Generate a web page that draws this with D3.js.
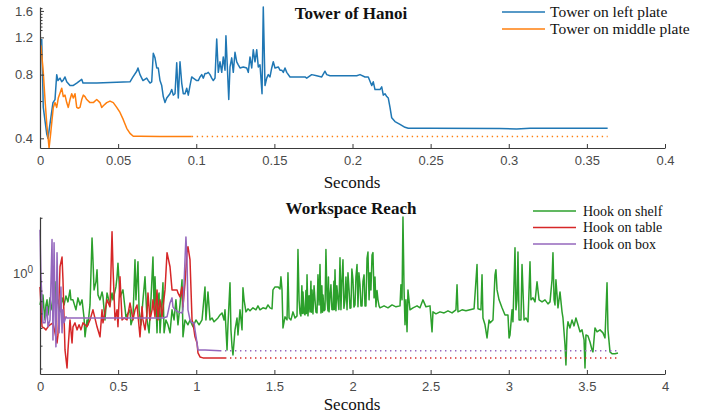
<!DOCTYPE html>
<html>
<head>
<meta charset="utf-8">
<script src="https://cdn.jsdelivr.net/npm/d3@7"></script>
<style>
  html, body { margin: 0; padding: 0; background: #fff; }
  svg { display: block; }
  .tick text { font-family: "Liberation Sans", Arial, sans-serif; font-size: 13px; fill: #4a4a4a; }
  .ttl { font-family: "Liberation Serif", "Times New Roman", serif; font-weight: bold; font-size: 17px; fill: #111; }
  .xl { font-family: "Liberation Serif", "Times New Roman", serif; font-size: 17px; fill: #111; }
  .lg { font-family: "Liberation Serif", "Times New Roman", serif; fill: #111; }
</style>
</head>
<body>
<svg id="chart" width="707" height="415"></svg>
<script>
// ---------------- DATA ----------------
// Tower of Hanoi  [seconds, value]
const towerLeft = [
  [0.0011,1.18],[0.0021,0.56],[0.0043,0.42],[0.0051,0.40],[0.0083,0.59],[0.0096,0.61],[0.0107,0.80],
  [0.0115,0.75],[0.0128,0.77],[0.0139,0.74],[0.0147,0.75],[0.016,0.78],[0.0171,0.74],[0.0192,0.71],
  [0.0211,0.71],[0.0235,0.73],[0.0267,0.76],[0.0275,0.73],[0.0307,0.73],[0.0363,0.73],[0.0576,0.74],
  [0.0595,0.78],[0.0619,0.83],[0.0627,0.86],[0.064,0.80],[0.0659,0.75],[0.0683,0.77],[0.0693,0.75],
  [0.0704,0.73],[0.0715,0.74],[0.0725,1.01],[0.0736,0.96],[0.0747,0.86],[0.0757,0.86],[0.0768,0.75],
  [0.0779,0.71],[0.0789,0.63],[0.080,0.59],[0.0811,0.62],[0.0832,0.65],[0.0843,0.68],[0.0853,0.64],
  [0.0864,0.65],[0.0875,0.91],[0.0885,0.62],[0.0896,0.92],[0.0907,0.73],[0.0917,0.65],[0.0928,0.65],
  [0.0939,0.69],[0.0949,0.64],[0.096,0.71],[0.0971,0.78],[0.0981,0.77],[0.1003,0.75],[0.1013,0.75],
  [0.1024,0.78],[0.1035,0.80],[0.1045,0.77],[0.1056,0.81],[0.1067,0.81],[0.1077,0.82],[0.1088,0.80],
  [0.1099,0.77],[0.1109,0.75],[0.112,0.77],[0.1131,1.18],[0.1141,0.82],[0.1152,0.92],[0.1163,0.82],
  [0.1173,0.97],[0.1184,0.84],[0.119,1.22],[0.1199,0.87],[0.1208,0.61],[0.1216,0.87],[0.1227,0.96],
  [0.1237,0.82],[0.1248,1.02],[0.1259,0.92],[0.1269,0.89],[0.128,0.86],[0.1301,0.87],[0.1323,0.86],
  [0.1333,0.82],[0.1344,0.97],[0.1355,0.86],[0.1365,1.05],[0.1376,0.92],[0.1387,1.05],[0.1397,0.87],
  [0.1408,0.89],[0.1421,0.65],[0.1429,1.67],[0.144,0.71],[0.1451,0.77],[0.1461,0.80],[0.1472,0.78],
  [0.1483,0.86],[0.1493,0.92],[0.1504,0.86],[0.1525,0.87],[0.1536,0.84],[0.1547,0.84],[0.1557,0.82],
  [0.1568,0.86],[0.1579,0.82],[0.16,0.78],[0.1621,0.78],[0.1664,0.78],[0.1696,0.78],[0.1707,0.77],
  [0.1739,0.80],[0.1771,0.79],[0.1803,0.78],[0.1824,0.83],[0.1835,0.80],[0.1856,0.79],[0.2027,0.79],
  [0.2048,0.80],[0.208,0.78],[0.2101,0.78],[0.2123,0.71],[0.2133,0.74],[0.2144,0.68],[0.2155,0.68],
  [0.2176,0.68],[0.2187,0.70],[0.2197,0.64],[0.2208,0.65],[0.2219,0.63],[0.2229,0.62],[0.224,0.56],
  [0.2251,0.50],[0.2272,0.48],[0.2304,0.466],[0.2336,0.451],[0.2357,0.446],[0.2496,0.446],
  [0.294,0.445],[0.305,0.443],[0.3136,0.446],[0.3633,0.446]
];
const towerMiddle = [
  [0.0006,1.10],[0.0021,0.82],[0.0032,0.61],[0.0043,0.47],[0.0058,0.36],[0.0068,0.42],[0.0085,0.56],
  [0.0096,0.59],[0.0107,0.56],[0.0117,0.62],[0.0139,0.69],[0.0149,0.63],[0.016,0.64],[0.0171,0.59],
  [0.0181,0.56],[0.0192,0.61],[0.0203,0.65],[0.0213,0.62],[0.0224,0.65],[0.0235,0.56],[0.0245,0.555],
  [0.0256,0.56],[0.0267,0.61],[0.0277,0.64],[0.0288,0.63],[0.0299,0.61],[0.032,0.59],[0.0341,0.59],
  [0.0363,0.61],[0.0384,0.59],[0.0395,0.56],[0.0405,0.57],[0.0427,0.59],[0.0448,0.60],[0.0469,0.59],
  [0.0491,0.56],[0.0512,0.53],[0.0533,0.49],[0.0555,0.446],[0.0576,0.422],[0.0597,0.409],
  [0.064,0.409],[0.0768,0.408],[0.0971,0.408]
];
const towerSeries = ["Tower on left plate", "Tower on middle plate"];
const towerXTicks = [0, 0.05, 0.1, 0.15, 0.2, 0.25, 0.3, 0.35, 0.4];
const towerYTicks = [0.4, 0.8, 1.2, 1.6];
const towerYMinor = [0.6, 1.0, 1.3, 1.35, 1.4, 1.45, 1.5, 1.55, 1.65];

// Workspace Reach  [seconds, value]
const hookShelf = [
  [0,0.668],[0.006,0.712],[0.013,0.589],[0.019,0.758],[0.026,0.628],[0.032,0.553],[0.038,0.668],
  [0.045,0.712],[0.051,0.589],[0.064,0.730],[0.077,0.628],[0.090,0.712],[0.096,0.893],[0.102,0.668],
  [0.115,0.712],[0.128,0.612],[0.141,0.730],[0.154,0.668],[0.166,0.748],[0.179,0.694],[0.192,0.807],
  [0.198,0.712],[0.211,0.712],[0.230,0.628],[0.243,0.730],[0.256,0.668],[0.269,0.712],[0.282,0.567],
  [0.288,0.447],[0.301,0.553],[0.307,0.520],[0.320,0.668],[0.333,1.55],[0.339,1.18],[0.346,0.807],
  [0.358,0.893],[0.365,1.04],[0.371,0.758],[0.384,0.712],[0.397,0.787],[0.403,0.739],[0.416,0.553],
  [0.429,0.777],[0.448,0.668],[0.461,0.777],[0.467,0.712],[0.486,0.838],[0.493,0.951],[0.499,1.13],
  [0.512,0.739],[0.531,0.807],[0.550,0.575],[0.576,0.628],[0.582,0.520],[0.595,0.567],[0.608,1.18],
  [0.614,0.712],[0.627,1.15],[0.634,0.628],[0.646,0.520],[0.659,0.712],[0.672,0.951],[0.685,0.553],
  [0.698,0.470],[0.710,0.712],[0.723,1.22],[0.730,0.628],[0.736,0.951],[0.749,0.470],[0.755,0.712],
  [0.762,0.777],[0.768,0.470],[0.781,0.712],[0.787,0.882],[0.794,0.470],[0.806,0.553],[0.819,0.520],
  [0.832,0.470],[0.845,0.628],[0.858,0.553],[0.870,0.712],[0.883,0.520],[0.896,0.668],[0.909,0.916],
  [0.915,0.447],[0.928,0.553],[0.947,0.520],[0.960,0.553],[0.979,0.507],[0.998,0.553],[1.018,0.520],
  [1.037,0.553],[1.056,0.838],[1.062,0.553],[1.075,0.787],[1.088,0.553],[1.101,0.567],[1.114,0.540],
  [1.126,0.553],[1.139,0.567],[1.152,0.589],[1.165,0.604],[1.178,0.553],[1.184,0.628],[1.197,0.379],
  [1.203,0.520],[1.216,0.882],[1.222,0.488],[1.229,0.394],[1.235,0.356],[1.248,0.488],[1.261,0.567],
  [1.267,0.458],[1.280,0.628],[1.293,0.488],[1.299,0.828],[1.306,0.712],[1.318,0.612],[1.331,0.636],
  [1.344,0.620],[1.363,0.644],[1.382,0.628],[1.395,0.660],[1.408,0.628],[1.427,0.644],[1.446,0.636],
  [1.459,0.668],[1.472,0.644],[1.485,0.636],[1.491,0.807],[1.504,0.838],[1.523,0.838],[1.536,0.817],
  [1.542,0.951],[1.549,0.807],[1.555,0.500],[1.568,0.575],[1.581,0.553],[1.587,1.00],[1.594,0.567],
  [1.606,0.553],[1.619,0.612],[1.632,0.567],[1.645,0.582],[1.651,1.34],[1.658,0.712],[1.664,0.60],
  [1.670,0.582],[1.676,0.85],[1.680,0.60],[1.683,0.787],[1.690,0.60],[1.696,0.589],[1.702,0.80],
  [1.705,0.60],[1.709,0.975],[1.715,0.582],[1.722,0.75],[1.728,0.612],[1.734,0.90],[1.737,0.61],
  [1.741,0.807],[1.747,0.597],[1.754,0.85],[1.760,0.712],[1.766,0.61],[1.773,0.604],[1.779,0.975],
  [1.786,0.668],[1.792,1.11],[1.798,0.604],[1.804,0.85],[1.808,0.61],[1.811,0.758],[1.818,0.62],
  [1.824,0.628],[1.830,1.34],[1.837,0.712],[1.843,0.62],[1.846,0.95],[1.850,0.612],[1.856,0.75],
  [1.862,0.860],[1.868,0.63],[1.875,0.628],[1.881,0.90],[1.884,0.63],[1.888,1.04],[1.894,0.620],
  [1.900,0.85],[1.907,0.712],[1.913,0.63],[1.920,1.21],[1.926,0.628],[1.932,0.90],[1.939,1.18],
  [1.945,0.64],[1.952,0.712],[1.958,0.95],[1.965,0.628],[1.971,1.00],[1.978,0.807],[1.984,0.64],
  [1.990,0.644],[1.996,1.05],[2.003,0.916],[2.009,0.65],[2.016,0.668],[2.022,0.95],[2.029,1.11],
  [2.035,0.652],[2.041,1.00],[2.048,0.860],[2.054,0.66],[2.061,0.660],[2.067,0.90],[2.074,0.975],
  [2.080,0.66],[2.086,0.660],[2.093,1.20],[2.099,1.30],[2.106,0.712],[2.112,1.00],[2.118,0.807],
  [2.125,1.25],[2.131,1.29],[2.138,0.730],[2.144,0.95],[2.150,0.652],[2.157,0.80],[2.163,0.712],
  [2.170,0.66],[2.176,0.644],[2.202,0.660],[2.227,0.644],
  [2.253,0.668],[2.278,0.652],[2.304,0.660],[2.310,0.860],[2.317,0.712],[2.323,2.02],[2.330,0.807],
  [2.336,0.520],[2.342,0.712],[2.349,0.476],[2.355,0.807],[2.368,0.628],[2.387,0.644],[2.413,0.660],
  [2.432,0.644],[2.451,0.712],[2.470,0.652],[2.496,0.660],[2.509,0.476],[2.515,0.612],[2.534,0.597],
  [2.560,0.612],[2.586,0.604],[2.611,0.620],[2.637,0.604],[2.662,0.628],[2.669,0.860],[2.675,0.612],
  [2.701,0.628],[2.726,0.620],[2.752,0.628],[2.778,0.636],[2.797,1.11],[2.803,0.636],[2.822,0.628],
  [2.829,0.975],[2.835,0.567],[2.848,0.520],[2.861,0.441],[2.874,0.553],[2.880,0.533],[2.899,0.553],
  [2.912,0.975],[2.918,1.04],[2.925,0.807],[2.938,0.712],[2.957,0.644],[2.976,0.589],[2.995,0.589],
  [3.002,0.441],[3.008,0.458],[3.021,0.628],[3.027,0.540],[3.040,1.37],[3.046,0.628],[3.053,0.712],
  [3.059,1.30],[3.066,0.553],[3.078,0.553],[3.085,1.11],[3.098,0.553],[3.110,0.567],[3.123,0.540],
  [3.136,1.15],[3.142,0.712],[3.155,0.730],[3.168,0.694],[3.181,0.893],[3.194,0.712],[3.213,0.694],
  [3.232,0.712],[3.251,0.677],[3.264,0.694],[3.277,0.916],[3.283,1.29],[3.290,0.712],[3.296,0.668],
  [3.302,0.916],[3.315,0.644],[3.328,0.787],[3.341,0.612],[3.347,0.567],[3.360,0.404],[3.366,0.314],
  [3.373,0.488],[3.379,0.540],[3.392,0.500],[3.405,0.553],[3.418,0.513],[3.430,0.567],[3.443,0.520],
  [3.456,0.476],[3.469,0.488],[3.482,0.430],[3.488,0.302],[3.494,0.458],[3.507,0.452],[3.520,0.419],
  [3.533,0.379],[3.539,0.370],[3.552,0.500],[3.565,0.476],[3.584,0.488],[3.603,0.470],[3.616,0.441],
  [3.629,0.882],[3.635,0.488],[3.648,0.370],[3.661,0.361],[3.680,0.361],[3.699,0.365]
];
const hookTable = [
  [0,0.838],[0.013,0.507],[0.026,0.500],[0.038,0.488],[0.051,0.507],[0.064,0.520],[0.083,0.533],
  [0.096,0.470],[0.109,0.414],[0.115,0.458],[0.128,1.08],[0.141,1.22],[0.147,0.916],[0.160,0.379],
  [0.173,0.302],[0.179,0.379],[0.192,0.553],[0.205,0.414],[0.211,0.507],[0.224,0.533],[0.237,0.488],
  [0.250,0.520],[0.262,0.488],[0.275,0.533],[0.301,0.507],[0.320,0.553],[0.339,0.628],[0.365,0.507],
  [0.384,0.447],[0.397,0.628],[0.403,0.533],[0.429,0.712],[0.448,0.652],[0.461,1.68],[0.467,1.08],
  [0.480,0.553],[0.493,0.628],[0.499,0.507],[0.512,0.951],[0.525,0.553],[0.538,0.567],[0.557,0.553],
  [0.576,0.685],[0.595,0.553],[0.608,0.628],[0.621,0.668],[0.640,0.447],[0.653,0.652],[0.659,0.553],
  [0.672,0.488],[0.685,0.604],[0.691,0.777],[0.704,0.553],[0.717,0.628],[0.723,0.712],[0.736,0.575],
  [0.749,0.807],[0.755,0.553],[0.768,0.712],[0.781,0.575],[0.800,0.807],[0.813,1.29],[0.819,1.22],
  [0.832,1.08],[0.845,0.807],[0.858,0.807],[0.877,0.807],[0.883,0.777],[0.896,0.739],[0.909,0.838],
  [0.915,0.652],[0.928,0.882],[0.941,1.29],[0.947,1.39],[0.960,1.18],[0.973,0.553],[0.979,0.533],
  [0.992,0.447],[1.005,0.414],[1.011,0.365],[1.024,0.347],[1.043,0.343],[1.088,0.343],[1.139,0.343],
  [1.184,0.343]
];
const hookBox = [
  [0,1.72],[0.006,0.951],[0.013,0.712],[0.019,0.533],[0.032,0.533],[0.045,0.652],[0.051,0.507],
  [0.064,0.553],[0.077,1.52],[0.083,0.430],[0.090,1.46],[0.096,0.628],[0.102,0.394],[0.109,1.29],
  [0.115,0.685],[0.122,0.470],[0.134,0.838],[0.141,0.470],[0.147,0.628],[0.154,0.533],[0.166,0.575],
  [0.173,0.567],[0.256,0.567],[0.384,0.567],[0.512,0.567],[0.640,0.567],[0.787,0.567],[0.813,0.575],
  [0.832,0.685],[0.845,0.730],[0.851,0.652],[0.864,0.628],[0.883,0.612],[0.909,0.604],[0.915,0.628],
  [0.928,1.18],[0.934,1.57],[0.941,1.18],[0.947,0.628],[0.960,0.553],[0.973,0.533],[0.986,0.533],
  [0.992,0.488],[1.005,0.414],[1.011,0.379],[1.056,0.379],[1.152,0.375]
];
const reachSeries = ["Hook on shelf", "Hook on table", "Hook on box"];
const reachXTicks = [0, 0.5, 1, 1.5, 2, 2.5, 3, 3.5, 4];
const reachYTicks = [1];
const reachYMinor = [0.3, 0.4, 0.5, 0.6, 0.7, 0.8, 0.9, 2];

// ---------------- DRAW ----------------
const svg = d3.select("#chart");
const AXC = "#3a3a3a";

function panel(cfg) {
  const g = svg.append("g");
  const x = d3.scaleLinear().domain(cfg.xDomain).range([40, 665]);
  const y = d3.scaleLog().domain(cfg.yDomain).range([cfg.bottom, cfg.top]);
  const line = d3.line().x(d => x(d[0])).y(d => y(d[1]));
  const tEnd = d3.max(cfg.series, s => s.data[s.data.length - 1][0]);

  cfg.series.forEach(s => {
    const last = s.data[s.data.length - 1];
    if (last[0] < tEnd - 1e-9) {
      g.append("path").attr("d", line([last, [tEnd, last[1]]]))
        .attr("fill", "none").attr("stroke", s.color).attr("stroke-width", 1.5)
        .attr("stroke-dasharray", "1.4,3.6");
    }
    g.append("path").attr("d", line(s.data))
      .attr("fill", "none").attr("stroke", s.color).attr("stroke-width", 1.5)
      .attr("stroke-linejoin", "round");
  });

  // x axis
  const xa = g.append("g").attr("transform", `translate(0,${cfg.bottom})`)
    .call(d3.axisBottom(x).tickValues(cfg.xTicks).tickFormat(d3.format("~g"))
      .tickSizeInner(-4).tickSizeOuter(0).tickPadding(8));
  xa.select(".domain").attr("stroke", AXC).attr("stroke-width", 1.2);
  xa.selectAll(".tick line").attr("stroke", AXC);

  // y axis minor
  const ym = g.append("g").attr("transform", "translate(40,0)")
    .call(d3.axisLeft(y).tickValues(cfg.yMinor).tickFormat("").tickSizeInner(-2.5).tickSizeOuter(0));
  ym.select(".domain").remove();
  ym.selectAll(".tick line").attr("stroke", AXC);

  const ya = g.append("g").attr("transform", "translate(40,0)")
    .call(d3.axisLeft(y).tickValues(cfg.yTicks).tickFormat(cfg.yFormat)
      .tickSizeInner(-4).tickSizeOuter(0).tickPadding(7));
  ya.select(".domain").attr("stroke", AXC).attr("stroke-width", 1.2);
  ya.selectAll(".tick line").attr("stroke", AXC);
  if (cfg.yPow) {
    ya.selectAll(".tick text").each(function() {
      const t = d3.select(this);
      t.text("");
      t.append("tspan").text("10");
      t.append("tspan").attr("dy", "-0.45em").attr("font-size", "10px").text("0");
    });
  }

  // title & x label
  g.append("text").attr("class", "ttl").attr("x", 351).attr("y", cfg.titleY)
    .attr("text-anchor", "middle").text(cfg.title);
  g.append("text").attr("class", "xl").attr("x", 352).attr("y", cfg.xlabelY)
    .attr("text-anchor", "middle").text("Seconds");

  // legend
  cfg.series.forEach((s, i) => {
    const ly = cfg.legendY + i * cfg.legendStep;
    g.append("line").attr("x1", cfg.legendX).attr("x2", cfg.legendX + 43)
      .attr("y1", ly).attr("y2", ly).attr("stroke", s.color).attr("stroke-width", 1.5);
    g.append("text").attr("class", "lg").attr("x", cfg.legendX + cfg.legendGap)
      .attr("y", ly + cfg.legendFont * 0.33).style("font-size", cfg.legendFont + "px").text(s.name);
  });
}

panel({
  xDomain: [0, 0.4], yDomain: [0.36, 1.67], top: 7, bottom: 148,
  xTicks: towerXTicks, yTicks: towerYTicks, yMinor: towerYMinor,
  yFormat: d3.format(".1f"),
  title: "Tower of Hanoi", titleY: 19, xlabelY: 188,
  legendX: 502, legendY: 12, legendStep: 17, legendGap: 48, legendFont: 15.5,
  series: [
    { name: towerSeries[0], data: towerLeft, color: "#1f77b4" },
    { name: towerSeries[1], data: towerMiddle, color: "#ff7f0e" }
  ]
});

panel({
  xDomain: [0, 4], yDomain: [0.28, 2.02], top: 217, bottom: 374,
  xTicks: reachXTicks, yTicks: reachYTicks, yMinor: reachYMinor,
  yFormat: d3.format("~g"), yPow: true,
  title: "Workspace Reach", titleY: 214, xlabelY: 410,
  legendX: 533, legendY: 211, legendStep: 16.5, legendGap: 50, legendFont: 14,
  series: [
    { name: reachSeries[0], data: hookShelf, color: "#2ca02c" },
    { name: reachSeries[1], data: hookTable, color: "#d62728" },
    { name: reachSeries[2], data: hookBox, color: "#9467bd" }
  ]
});
</script>
</body>
</html>
